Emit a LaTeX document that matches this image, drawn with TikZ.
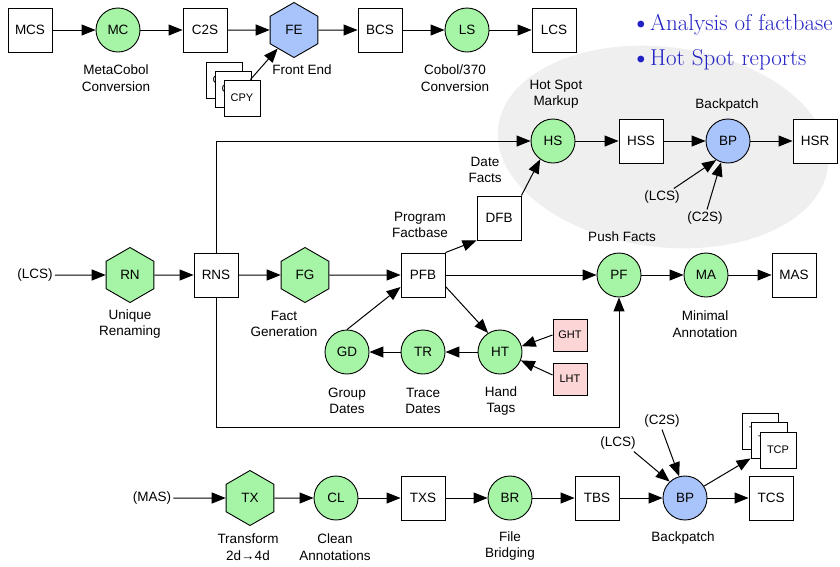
\documentclass[tikz,border=0pt]{standalone}
\usepackage{fontspec}
\newfontfamily\labfont{Liberation Sans}
\usetikzlibrary{arrows.meta,shapes.geometric,calc}
\definecolor{procgreen}{RGB}{166,244,166}
\definecolor{procblue}{RGB}{168,196,250}
\definecolor{tagpink}{RGB}{252,214,214}
\definecolor{hazegrey}{RGB}{239,239,239}
\definecolor{bulletblue}{RGB}{34,34,196}
\begin{document}
\begin{tikzpicture}[x=1pt,y=-1pt,
  every node/.style={font=\labfont\fontsize{13.5}{16.5}\selectfont, inner sep=2pt},
  file/.style={draw, fill=white, minimum width=44pt, minimum height=44pt, inner sep=0pt, line width=0.9pt},
  smallfile/.style={draw, fill=white, minimum width=36pt, minimum height=36pt, inner sep=0pt, line width=0.9pt,
    font=\labfont\fontsize{11}{13}\selectfont},
  tagfile/.style={draw, fill=tagpink, minimum width=34pt, minimum height=32pt, inner sep=0pt, line width=0.9pt,
    font=\labfont\fontsize{11}{13}\selectfont},
  proc/.style={circle, draw, fill=procgreen, minimum size=44pt, inner sep=0pt, line width=0.9pt},
  bproc/.style={proc, fill=procblue},
  hexproc/.style={regular polygon, regular polygon sides=6, shape border rotate=30, draw, fill=procgreen,
    minimum size=55pt, inner sep=0pt, line width=0.9pt},
  bhexproc/.style={hexproc, fill=procblue},
  note/.style={align=center},
  arr/.style={-{Triangle[length=14pt,width=11pt]}, line width=1pt},
  bullettext/.style={anchor=base west, inner sep=0pt, text=bulletblue,
    font=\rmfamily\fontsize{23}{26}\selectfont},
  bulletdot/.style={anchor=base west, inner sep=0pt, text=bulletblue,
    font=\rmfamily\fontsize{30}{30}\selectfont},
]
\useasboundingbox (0,0) rectangle (840,566);

% shaded hot spot region
\fill[hazegrey, rotate around={-7:(663,147)}] (663,147) ellipse [x radius=166, y radius=100];

% bullet list
\node[bulletdot] (dot1) at (630,32) {\textbullet};
\node[bullettext] (item1) at (650,30) {Analysis of factbase};
\node[bulletdot] (dot2) at (630,67) {\textbullet};
\node[bullettext] (item2) at (650,65) {Hot Spot reports};

% ---- conversion row ----
\node[file] (mcs) at (30,30) {MCS};
\node[proc] (mc) at (118,30) {MC};
\node[file] (c2s) at (205,30) {C2S};
\node[bhexproc] (fe) at (294,30) {FE};
\node[file] (bcs) at (380,30) {BCS};
\node[proc] (ls) at (467,30) {LS};
\node[file] (lcs) at (554,30) {LCS};
\node[note] (mcl) at (116,78) {MetaCobol\\Conversion};
\node[note] (fel) at (302,70) {Front End};
\node[note] (lsl) at (455,78) {Cobol/370\\Conversion};

% copybook stack
\node[smallfile] (cpya) at (224,80) {CPY};
\node[smallfile] (cpyb) at (233,89) {CPY};
\node[smallfile] (cpyc) at (242,98) {CPY};

\draw[arr] (mcs) -- (mc);
\draw[arr] (mc) -- (c2s);
\draw[arr] (c2s) -- (fe);
\draw[arr] (fe) -- (bcs);
\draw[arr] (bcs) -- (ls);
\draw[arr] (ls) -- (lcs);
\draw[arr] ([xshift=-10pt]cpyc.north east) -- (fe);

% ---- hot spot row ----
\node[proc] (hs) at (553,141) {HS};
\node[file] (hss) at (641,141) {HSS};
\node[bproc] (bpa) at (728,141) {BP};
\node[file] (hsr) at (815,141) {HSR};
\node[note] (hsl) at (556,94) {Hot Spot\\Markup};
\node[note] (bpal) at (727,105) {Backpatch};
\node[note] (lcsa) at (662,197) {(LCS)};
\node[note] (c2sa) at (705,218) {(C2S)};
\draw[arr] (hs) -- (hss);
\draw[arr] (hss) -- (bpa);
\draw[arr] (bpa) -- (hsr);
\draw[arr] ([xshift=-8pt]lcsa.north east) -- (bpa.238);
\draw[arr] ([xshift=2pt]c2sa.north) -- (bpa.252);

% ---- fact base row ----
\node[note] (lcsb) at (35,275) {(LCS)};
\node[hexproc] (rn) at (130,275) {RN};
\node[file] (rns) at (216,275) {RNS};
\node[hexproc] (fg) at (305,275) {FG};
\node[file] (pfb) at (423,275) {PFB};
\node[file] (dfb) at (499,218) {DFB};
\node[proc] (pf) at (619,275) {PF};
\node[proc] (ma) at (706,275) {MA};
\node[file] (mas) at (794,275) {MAS};
\node[note] (rnl) at (130,324) {Unique\\Renaming};
\node[note] (fgl) at (284,324) {Fact\\Generation};
\node[note] (pfbl) at (420,225) {Program\\Factbase};
\node[note] (dfbl) at (485,170) {Date\\Facts};
\node[note] (pfl) at (622,237) {Push Facts};
\node[note] (mal) at (705,324) {Minimal\\Annotation};

% hand tag loop
\node[proc] (gd) at (347,352) {GD};
\node[proc] (tr) at (423,352) {TR};
\node[proc] (ht) at (500,352) {HT};
\node[tagfile] (ght) at (570,335) {GHT};
\node[tagfile] (lht) at (570,379) {LHT};
\node[note] (gdl) at (347,401) {Group\\Dates};
\node[note] (trl) at (423,401) {Trace\\Dates};
\node[note] (htl) at (501,401) {Hand\\Tags};

\draw[arr] (lcsb) -- (rn);
\draw[arr] (rn) -- (rns);
\draw[arr] (rns) -- (fg);
\draw[arr] (fg) -- (pfb);
\draw[arr] (pfb) -- (pf);
\draw[arr] (pf) -- (ma);
\draw[arr] (ma) -- (mas);
\draw[arr] (pfb.north east) -- (dfb.south west);
\draw[arr] (dfb.north east) -- (hs.235);
\draw[arr] (pfb.-27) -- (ht.122);
\draw[arr] (ht) -- (tr);
\draw[arr] (tr) -- (gd);
\draw[arr] (gd.north) -- ([yshift=-12pt]pfb.west);
\draw[arr] (ght.west) -- (ht.15);
\draw[arr] ([yshift=4pt]lht.west) -- (ht.-22);

% bypass routes from RNS
\coordinate (lowturn) at (216,427);
\draw[arr] (rns.north) |- (hs.west);
\draw[arr] (rns.south) -- (lowturn) -| (pf.south);

% ---- transformation row ----
\node[note] (masb) at (152,498) {(MAS)};
\node[hexproc] (tx) at (250,498) {TX};
\node[proc] (cl) at (336,498) {CL};
\node[file] (txs) at (423,498) {TXS};
\node[proc] (br) at (510,498) {BR};
\node[file] (tbs) at (597,498) {TBS};
\node[bproc] (bpb) at (685,498) {BP};
\node[file] (tcs) at (771,498) {TCS};
\node[smallfile] (tcpa) at (760,431) {TCP};
\node[smallfile] (tcpb) at (769,440) {TCP};
\node[smallfile] (tcpc) at (778,450) {TCP};
\node[note] (txl) at (248,547) {Transform\\2d→4d};
\node[note] (cll) at (335,547) {Clean\\Annotations};
\node[note] (brl) at (510,546) {File\\Bridging};
\node[note] (bpbl) at (683,538) {Backpatch};
\node[note] (lcsc) at (618,443) {(LCS)};
\node[note] (c2sc) at (662,421) {(C2S)};

\draw[arr] (masb) -- (tx);
\draw[arr] (tx) -- (cl);
\draw[arr] (cl) -- (txs);
\draw[arr] (txs) -- (br);
\draw[arr] (br) -- (tbs);
\draw[arr] (tbs) -- (bpb);
\draw[arr] (bpb) -- (tcs);
\draw[arr] (bpb.32) -- (tcpb.south west);
\draw[arr] ([xshift=-4pt]lcsc.south east) -- (bpb.133);
\draw[arr] (c2sc.south) -- (bpb.105);
\end{tikzpicture}
\end{document}
